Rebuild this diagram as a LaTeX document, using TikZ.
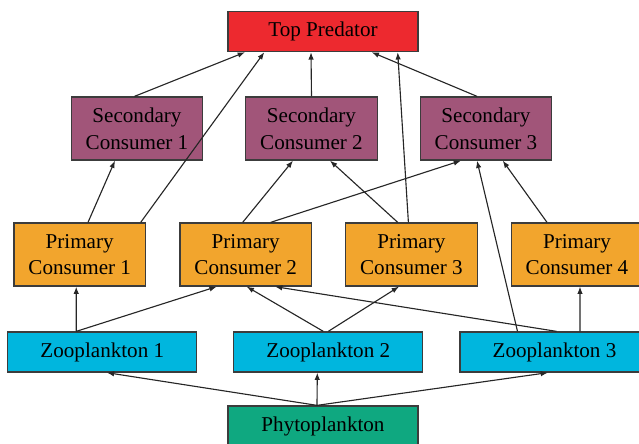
\documentclass[tikz,border=0pt]{standalone}
\usepackage{fontspec}
\setmainfont{Liberation Serif}
\usetikzlibrary{arrows.meta}
\tikzset{>={Latex[length=5.2pt,width=3.9pt]}}
\definecolor{predred}{RGB}{237,41,47}
\definecolor{secpurple}{RGB}{161,85,121}
\definecolor{primorange}{RGB}{242,165,45}
\definecolor{zoocyan}{RGB}{0,182,222}
\definecolor{phytogreen}{RGB}{15,168,128}
\definecolor{boxline}{RGB}{60,60,60}
\tikzset{
	box/.style={draw=boxline, line width=0.9pt, inner sep=0pt, align=center,
		font=\fontsize{15}{19}\selectfont},
	widebox/.style={box, minimum width=4.75cm, minimum height=1cm},
	tallbox/.style={box, minimum width=3.29cm, minimum height=1.575cm},
	link/.style={->, line width=0.8pt, draw=black!85}
}

\begin{document}
\begin{tikzpicture}[x=0.025cm, y=-0.025cm]
		\clip (0,0) rectangle (639,444);

		\node[widebox, fill=predred] (top) at (323, 31.6) {Top Predator};

		\node[tallbox, fill=secpurple] (sec1) at (137, 128.5) {Secondary\\Consumer 1};
		\node[tallbox, fill=secpurple] (sec2) at (311.5, 128.5) {Secondary\\Consumer 2};
		\node[tallbox, fill=secpurple] (sec3) at (486, 128.5) {Secondary\\Consumer 3};

		\node[tallbox, fill=primorange] (prim1) at (79.7, 254.5) {Primary\\Consumer 1};
		\node[tallbox, fill=primorange] (prim2) at (245.7, 254.5) {Primary\\Consumer 2};
		\node[tallbox, fill=primorange] (prim3) at (411.4, 254.5) {Primary\\Consumer 3};
		\node[tallbox, fill=primorange] (prim4) at (577, 254.5) {Primary\\Consumer 4};

		\node[widebox, minimum width=4.725cm, fill=zoocyan] (zoo1) at (102.3, 352) {Zooplankton 1};
		\node[widebox, minimum width=4.725cm, fill=zoocyan] (zoo2) at (328.3, 352) {Zooplankton 2};
		\node[widebox, minimum width=4.725cm, fill=zoocyan] (zoo3) at (554.5, 352) {Zooplankton 3};

		\node[widebox, fill=phytogreen] (phyto) at (323, 426) {Phytoplankton};

		% prey/offset/predator/offset
		\foreach \prey/\dp/\pred/\dq in {
				phyto/-6/zoo1/4.5, phyto/-6/zoo2/-11, phyto/-6/zoo3/-6.5,
				zoo1/-26/prim1/-3.5, zoo1/-26/prim2/-29,
				zoo2/-5/prim2/1, zoo2/0/prim3/-12.4,
				zoo3/2/prim2/29.3, zoo3/-37/sec3/-9, zoo3/25.5/prim4/3,
				prim1/8.3/sec1/-22, prim1/61/top/-58.7,
				prim2/-3/sec2/-18.5, prim2/25/sec3/-25,
				prim3/-13.7/sec2/18.5, prim3/-3/top/74.7,
				prim4/-30/sec3/16.7,
				sec1/-2.5/top/-78, sec2/0/top/-12, sec3/-9/top/48.7}
			\draw[link] ([shift={(\dp,0)}]\prey.north) -- ([shift={(\dq,0)}]\pred.south);
	\end{tikzpicture}
\end{document}
